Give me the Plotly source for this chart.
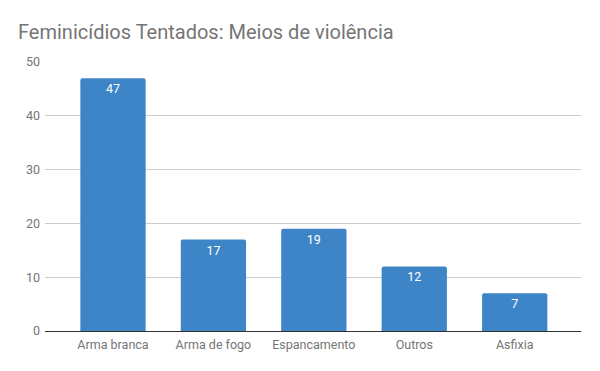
import plotly.graph_objects as go

categories = ["Arma branca", "Arma de fogo", "Espancamento", "Outros", "Asfixia"]
values = [47, 17, 19, 12, 7]
y_ticks = [0, 10, 20, 30, 40, 50]

# page body has an 8px default margin, compensated in the layout margins
fig = go.Figure(go.Bar(
    x=list(range(len(categories))),
    y=values,
    text=[str(v) for v in values],
    textposition="inside",
    insidetextanchor="end",
    textfont=dict(color="white", size=12.5, family="Roboto"),
    marker=dict(color="#3d85c6", cornerradius=2, line=dict(width=0)),
    width=0.65,
))

fig.update_layout(
    width=600, height=371,
    margin=dict(l=37, r=27, t=54, b=48),
    paper_bgcolor="white", plot_bgcolor="white",
    font=dict(family="Roboto", color="#757575", size=12),
    title=dict(text="Feminicídios Tentados: Meios de violência",
               x=10/600, xanchor="left", y=1-24/371, yanchor="middle",
               font=dict(size=20, color="#757575", family="Roboto")),
    showlegend=False,
    bargap=0.35,
)
fig.update_xaxes(
    tickmode="array", tickvals=list(range(len(categories))), ticktext=categories,
    range=[-0.677, 4.66], showgrid=False, zeroline=False,
    showline=False, ticks="", tickfont=dict(size=12.5, color="#757575"),
    ticklabelstandoff=4,
)
fig.update_yaxes(
    range=[0, 50], tickvals=y_ticks, showgrid=True, gridcolor="#cccccc", gridwidth=1,
    zeroline=True, zerolinecolor="#333333", zerolinewidth=1,
    ticks="", tickfont=dict(size=12.5, color="#757575"), ticklabelstandoff=4,
)

fig.write_html("out.html")
